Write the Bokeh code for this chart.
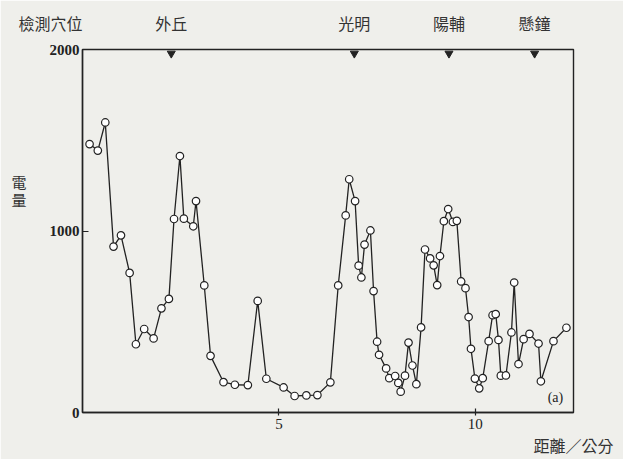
from bokeh.plotting import figure
from bokeh.models import Range1d, Label, FixedTicker, ColumnDataSource, LinearAxis
from bokeh.embed import file_html
from bokeh.resources import INLINE

# distance (cm) and measured charge
distance = [0.18, 0.39, 0.58, 0.79, 0.98, 1.20, 1.36, 1.57, 1.81, 2.01,
            2.20, 2.33, 2.48, 2.58, 2.82, 2.89, 3.10, 3.26, 3.59, 3.88,
            4.21, 4.46, 4.68, 5.12, 5.40, 5.70, 5.98, 6.31, 6.51, 6.70,
            6.79, 6.94, 7.03, 7.10, 7.18, 7.33, 7.41, 7.50, 7.55, 7.73,
            7.81, 7.96, 8.04, 8.10, 8.21, 8.30, 8.40, 8.50, 8.62, 8.72,
            8.85, 8.94, 9.03, 9.10, 9.20, 9.31, 9.43, 9.53, 9.64, 9.75,
            9.83, 9.89, 9.99, 10.10, 10.19, 10.34, 10.44, 10.52, 10.59, 10.65,
            10.78, 10.92, 10.99, 11.10, 11.23, 11.38, 11.61, 11.67, 11.99, 12.32]
charge = [1479, 1443, 1598, 914, 976, 769, 376, 460, 408, 574,
          626, 1066, 1413, 1068, 1026, 1165, 700, 312, 167, 153,
          151, 615, 186, 138, 91, 94, 96, 166, 700, 1086,
          1285, 1165, 809, 744, 925, 1003, 669, 390, 318, 243,
          189, 201, 163, 115, 203, 385, 259, 156, 469, 898,
          849, 811, 702, 862, 1054, 1121, 1050, 1056, 722, 685,
          526, 351, 187, 133, 189, 393, 536, 542, 400, 203,
          204, 441, 716, 267, 404, 433, 380, 172, 393, 467]

# acupoints marked on the top edge
acupoint_header = "檢測穴位"
acupoint_names = ["外丘", "光明", "陽輔", "懸鐘"]
acupoint_pos = [2.26, 6.92, 9.33, 11.51]

x_ticks = [5, 10]
y_ticks = [0, 1000, 2000]
x_max = 12.5
y_max = 2000
x_title = "距離／公分"
y_title_chars = ["電", "量"]

BG = "#efefeb"
INK = "#222222"
CJK = "Noto Sans CJK TC"

p = figure(width=623, height=459, x_range=Range1d(0, x_max), y_range=Range1d(0, y_max),
           output_backend="svg", toolbar_location=None,
           min_border_left=82, min_border_right=50, min_border_top=49, min_border_bottom=45)
p.background_fill_color = BG
p.border_fill_color = BG
p.grid.visible = False
p.outline_line_color = INK
p.outline_line_width = 1.4

for ax in (p.xaxis, p.yaxis):
    ax.axis_line_color = INK
    ax.axis_line_width = 1.4
    ax.major_tick_line_color = INK
    ax.major_tick_line_width = 1.2
    ax.minor_tick_line_color = None
    ax.major_label_text_color = INK
    ax.major_label_text_font = "Liberation Serif"

p.xaxis.ticker = FixedTicker(ticks=x_ticks)
p.xaxis.major_tick_in = 4
p.xaxis.major_tick_out = 3
p.xaxis.major_label_text_font_size = "15px"
p.xaxis.major_label_standoff = 3

p.yaxis.ticker = FixedTicker(ticks=y_ticks)
p.yaxis.major_tick_in = 6
p.yaxis.major_tick_out = 0
p.yaxis.major_label_text_font_size = "15px"
p.yaxis.major_label_text_font_style = "bold"
p.yaxis.major_label_standoff = 3


def text_axis(ticks, labels, standoff, size="16px"):
    ax = LinearAxis(ticker=FixedTicker(ticks=ticks),
                    major_label_overrides={t: s for t, s in zip(ticks, labels)})
    ax.axis_line_color = None
    ax.major_tick_line_color = None
    ax.minor_tick_line_color = None
    ax.major_tick_in = 0
    ax.major_tick_out = 0
    ax.major_label_standoff = standoff
    ax.major_label_text_font = CJK
    ax.major_label_text_font_size = size
    ax.major_label_text_color = "#333333"
    return ax


# acupoint names along the top edge (header sits left of the frame corner)
top_ticks = [0] + acupoint_pos
top_labels = [acupoint_header + "\u3000" * 4] + acupoint_names
p.add_layout(text_axis(top_ticks, top_labels, 15), "above")

# stacked vertical y title
y_title_pos = [1271, 1173]
p.add_layout(text_axis(y_title_pos, y_title_chars, 20, size="15px"), "left")

# x title at the lower right
p.add_layout(text_axis([x_max], [x_title], 1), "below")

src = ColumnDataSource(dict(x=distance, y=charge))
p.line("x", "y", source=src, line_color=INK, line_width=1.3)
p.scatter("x", "y", source=src, marker="circle", size=7.5, fill_color="white",
          line_color=INK, line_width=1.2)

# acupoint markers hanging from the top edge
tri_y = [y_max - 4 / 0.1825] * len(acupoint_pos)
p.scatter(acupoint_pos, tri_y, marker="inverted_triangle", size=8,
          fill_color=INK, line_color=INK)

# panel tag
p.add_layout(Label(x=12.04, y=80, text="(a)", text_font="Liberation Serif", text_font_size="14px",
                   text_align="center", text_baseline="middle", text_color=INK))

open("out.html", "w").write(file_html(p, INLINE))
